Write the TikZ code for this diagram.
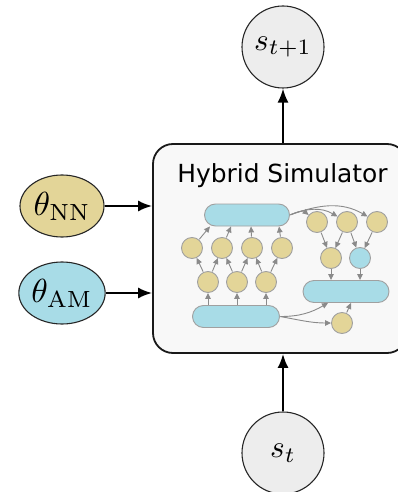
\documentclass[tikz,border=0pt]{standalone}
\usepackage{graphicx}
\usepackage{fontspec}
\newfontfamily\titlefont{DejaVu Sans}
\usetikzlibrary{arrows.meta,shapes.geometric,calc}

\definecolor{tanfill}{HTML}{E3D598}
\definecolor{skyfill}{HTML}{A8DCE7}
\definecolor{statefill}{HTML}{EDEDED}
\definecolor{boxfill}{HTML}{F8F8F8}
\definecolor{edgegray}{HTML}{8A8A8A}
\definecolor{rimgray}{HTML}{A0A0A0}

% math labels set at 10pt and enlarged
\newcommand{\biglabel}[1]{\scalebox{3.15}{$#1$}}
\newcommand{\paramlabel}[1]{\scalebox{3.35}{$#1$}}

\tikzset{
  statenode/.style={circle, draw=black!85, line width=1.1bp, fill=statefill,
    minimum size=82bp, inner sep=0pt, font=\fontsize{10}{12}\selectfont},
  paramnode/.style={ellipse, draw=black!85, line width=1.1bp,
    minimum width=84bp, minimum height=62bp, inner sep=0pt,
    font=\fontsize{10}{12}\selectfont},
  mainarrow/.style={-{Latex[length=14bp,width=11bp]}, line width=2bp},
  bar/.style={rectangle, rounded corners=11bp, fill=skyfill, draw=rimgray,
    line width=0.9bp, minimum height=22bp, inner sep=0pt},
  unit/.style={circle, fill=tanfill, draw=rimgray, line width=0.9bp,
    minimum size=21bp, inner sep=0pt},
  bunit/.style={unit, fill=skyfill},
  edge/.style={-{Triangle[length=6bp,width=5.5bp]}, draw=edgegray,
    line width=0.9bp, shorten <=0.5bp},
}

\begin{document}
\begin{tikzpicture}[x=1bp,y=-1bp]
\useasboundingbox (0,0) rectangle (397,492);

% simulator frame (runs past the right margin)
\node[draw=black!90, line width=1.8bp, rounded corners=20bp, fill=boxfill,
      minimum width=254bp, minimum height=209bp, inner sep=0pt] (sim) at (280,248.5) {};
\node[font=\titlefont\fontsize{25}{25}\selectfont, anchor=base] (title) at (282.5,183) {Hybrid Simulator};

% states and parameters
\node[statenode] (snext) at (283,47) {\biglabel{s_{t+1}}};
\node[statenode] (snow) at (283,453) {\biglabel{s_t}};
\node[paramnode, fill=tanfill] (thnn) at (62,206) {\paramlabel{\theta_{\mathrm{NN}}}};
\node[paramnode, fill=skyfill] (tham) at (62,293) {\paramlabel{\theta_{\mathrm{AM}}}};

\draw[mainarrow] (thnn.east) -- (thnn.east -| sim.west);
\draw[mainarrow] (tham.east) -- (tham.east -| sim.west);
\draw[mainarrow] (snow.north) -- (snow.north |- sim.south);
\draw[mainarrow] (snext.south |- sim.north) -- (snext.south);

% neural network part
\node[bar, minimum width=85bp] (tb) at (247,215) {};
\node[bar, minimum width=87bp] (bb) at (236,316.5) {};
\node[unit] (ua) at (192,248) {};
\node[unit] (ub) at (222,248) {};
\node[unit] (uc) at (252,248) {};
\node[unit] (ud) at (282,248) {};
\node[unit] (va) at (208,282) {};
\node[unit] (vb) at (237,282) {};
\node[unit] (vc) at (266,282) {};

\foreach \v in {va,vb,vc}
  \draw[edge] (bb.north -| \v) -- (\v.south);
\draw[edge] (va) -- (ua);
\draw[edge] (va) -- (ub);
\draw[edge] (vb) -- (ub);
\draw[edge] (vb) -- (uc);
\draw[edge] (vc) -- (uc);
\draw[edge] (vc) -- (ud);
\draw[edge] (ua) -- ([xshift=-37bp]tb.south);
\draw[edge] (ub) -- ([xshift=-16bp]tb.south);
\draw[edge] (uc) -- ([xshift=4bp]tb.south);
\draw[edge] (ud) -- ([xshift=32bp]tb.south);

% analytical model part
\node[unit] (ca) at (317,222) {};
\node[unit] (cb) at (347,222) {};
\node[unit] (cc) at (377,222) {};
\node[unit] (ma) at (331,258) {};
\node[bunit] (mb) at (360,258) {};
\node[bar, minimum width=86bp] (rb) at (346,291.5) {};
\node[unit] (lo) at (342,323) {};

\draw[edge] (tb.east) to[out=25,in=140] (ca);
\draw[edge] (tb.east) to[out=22,in=150] (cb);
\draw[edge] (tb.east) to[out=20,in=150] (cc);
\draw[edge] (ca) -- (ma);
\draw[edge] (cb) -- (ma);
\draw[edge] (cb) -- (mb);
\draw[edge] (cc) -- (mb);
\draw[edge] (ma) -- (ma |- rb.north);
\draw[edge] (mb) -- (mb |- rb.north);
\draw[edge] (bb.east) to[out=0,in=-150] ([xshift=-18bp]rb.south);
\draw[edge] (bb.east) to[out=-10,in=180] (lo.west);
\draw[edge] (lo) -- ([xshift=5bp]rb.south);
\end{tikzpicture}
\end{document}
